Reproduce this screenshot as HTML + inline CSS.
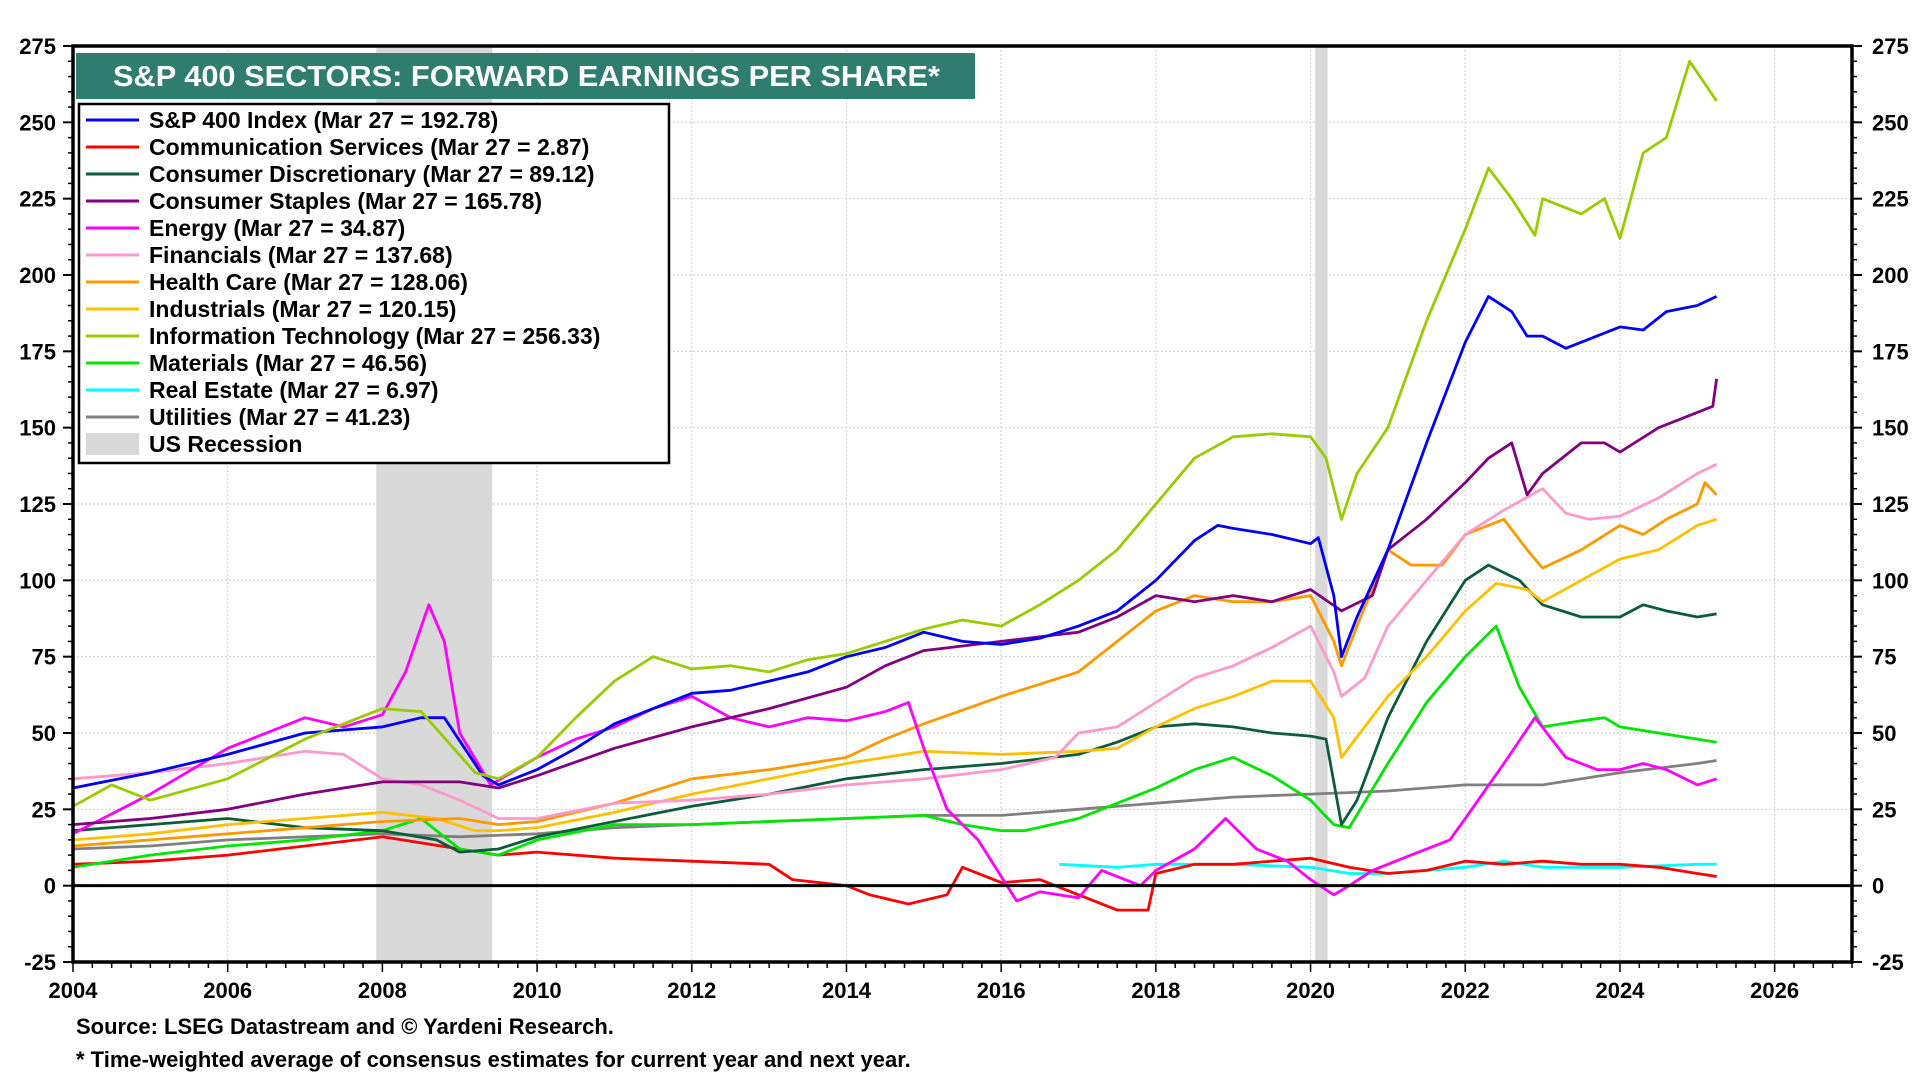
<!DOCTYPE html>
<html><head><meta charset="utf-8"><style>
html,body{margin:0;padding:0;background:#fff;}
svg{display:block;font-family:"Liberation Sans Narrow","Liberation Sans",sans-serif;font-weight:bold;}
</style></head><body>
<svg id="chart" width="1920" height="1080" viewBox="0 0 1920 1080" xmlns="http://www.w3.org/2000/svg">
<g id="grid"></g>
<g id="recessions"></g>
<g id="series"></g>
<g id="axes"></g>
<g id="legend"></g>
<text x="76" y="1034" font-size="22">Source: LSEG Datastream and © Yardeni Research.</text>
<text x="76" y="1067" font-size="22">* Time-weighted average of consensus estimates for current year and next year.</text>
</svg>
<script>
const xTicks = [2004,2006,2008,2010,2012,2014,2016,2018,2020,2022,2024,2026];
const yTicks = [-25,0,25,50,75,100,125,150,175,200,225,250,275];
const recessionStarts = [2007.92, 2020.06];
const recessionEnds = [2009.42, 2020.22];

const spxDates = [2004,2005,2006,2007,2008,2008.5,2008.8,2009.3,2009.5,2010,2010.5,2011,2011.5,2012,2012.5,2013,2013.5,2014,2014.5,2015,2015.5,2016,2016.5,2017,2017.5,2018,2018.5,2018.8,2019,2019.5,2020,2020.1,2020.3,2020.4,2020.6,2021,2021.5,2022,2022.3,2022.6,2022.8,2023,2023.3,2024,2024.3,2024.6,2025,2025.25];
const spxValues = [32,37,43,50,52,55,55,36,33,38,45,53,58,63,64,67,70,75,78,83,80,79,81,85,90,100,113,118,117,115,112,114,95,75,88,110,145,178,193,188,180,180,176,183,182,188,190,193];

const itDates = [2004,2004.5,2005,2006,2007,2008,2008.5,2009.2,2009.5,2010,2010.5,2011,2011.5,2012,2012.5,2013,2013.5,2014,2014.5,2015,2015.5,2016,2016.5,2017,2017.5,2018,2018.5,2019,2019.5,2020,2020.2,2020.4,2020.6,2021,2021.5,2022,2022.3,2022.6,2022.9,2023,2023.5,2023.8,2024,2024.3,2024.6,2024.9,2025.25];
const itValues = [26,33,28,35,48,58,57,37,35,42,55,67,75,71,72,70,74,76,80,84,87,85,92,100,110,125,140,147,148,147,140,120,135,150,185,215,235,225,213,225,220,225,212,240,245,270,257];

const csDates = [2004,2005,2006,2007,2008,2009,2009.5,2010,2011,2012,2013,2014,2014.5,2015,2016,2017,2017.5,2018,2018.5,2019,2019.5,2020,2020.4,2020.8,2021,2021.5,2022,2022.3,2022.6,2022.8,2023,2023.5,2023.8,2024,2024.5,2025,2025.2,2025.25];
const csValues = [20,22,25,30,34,34,32,36,45,52,58,65,72,77,80,83,88,95,93,95,93,97,90,95,110,120,132,140,145,128,135,145,145,142,150,155,157,166];

const finDates = [2004,2005,2006,2007,2007.5,2008,2008.5,2009,2009.5,2010,2011,2012,2013,2014,2015,2016,2016.7,2017,2017.5,2018,2018.5,2019,2019.5,2020,2020.3,2020.4,2020.7,2021,2021.5,2022,2022.5,2023,2023.3,2023.6,2024,2024.5,2025,2025.25];
const finValues = [35,37,40,44,43,35,33,28,22,22,27,28,30,33,35,38,42,50,52,60,68,72,78,85,70,62,68,85,100,115,123,130,122,120,121,127,135,138];

const hcDates = [2004,2005,2006,2007,2008,2009,2009.5,2010,2011,2012,2013,2014,2014.5,2015,2016,2017,2017.5,2018,2018.5,2019,2019.5,2020,2020.3,2020.4,2020.6,2021,2021.3,2021.7,2022,2022.5,2022.8,2023,2023.5,2024,2024.3,2024.6,2025,2025.1,2025.25];
const hcValues = [13,15,17,19,21,22,20,21,27,35,38,42,48,53,62,70,80,90,95,93,93,95,80,72,85,110,105,105,115,120,110,104,110,118,115,120,125,132,128];

const indDates = [2004,2005,2006,2007,2008,2008.7,2009.2,2009.5,2010,2011,2012,2013,2014,2015,2016,2017,2017.5,2018,2018.5,2019,2019.5,2020,2020.3,2020.4,2020.7,2021,2021.5,2022,2022.4,2022.8,2023,2023.5,2024,2024.5,2025,2025.25];
const indValues = [15,17,20,22,24,22,18,18,19,24,30,35,40,44,43,44,45,52,58,62,67,67,55,42,52,62,75,90,99,97,93,100,107,110,118,120];

const cdDates = [2004,2005,2006,2007,2008,2008.7,2009,2009.5,2010,2011,2012,2013,2014,2015,2016,2017,2017.5,2018,2018.5,2019,2019.5,2020,2020.2,2020.4,2020.6,2021,2021.5,2022,2022.3,2022.7,2023,2023.5,2024,2024.3,2024.6,2025,2025.25];
const cdValues = [18,20,22,19,18,15,11,12,16,21,26,30,35,38,40,43,47,52,53,52,50,49,48,20,28,55,80,100,105,100,92,88,88,92,90,88,89];

const matDates = [2004,2005,2006,2007,2008,2008.5,2009,2009.5,2010,2011,2012,2013,2014,2015,2015.5,2016,2016.3,2017,2018,2018.5,2019,2019.5,2020,2020.3,2020.5,2021,2021.5,2022,2022.4,2022.7,2023,2023.5,2023.8,2024,2024.5,2025,2025.25];
const matValues = [6,10,13,15,18,22,12,10,15,20,20,21,22,23,20,18,18,22,32,38,42,36,28,20,19,40,60,75,85,65,52,54,55,52,50,48,47];

const enDates = [2004,2005,2006,2007,2007.5,2008,2008.3,2008.6,2008.8,2009,2009.4,2010,2010.5,2011,2011.5,2012,2012.5,2013,2013.5,2014,2014.5,2014.8,2015,2015.3,2015.7,2016,2016.2,2016.5,2017,2017.3,2017.8,2018,2018.5,2018.9,2019.3,2019.7,2020,2020.3,2020.5,2020.8,2021.3,2021.8,2022,2022.5,2022.9,2023.3,2023.7,2024,2024.3,2024.6,2025,2025.25];
const enValues = [17,30,45,55,52,56,70,92,80,50,33,42,48,52,58,62,55,52,55,54,57,60,45,25,15,3,-5,-2,-4,5,0,5,12,22,12,8,2,-3,0,5,10,15,22,40,55,42,38,38,40,38,33,35];

const comDates = [2004,2005,2006,2007,2008,2008.5,2009,2009.5,2010,2011,2012,2013,2013.3,2014,2014.3,2014.8,2015.3,2015.5,2016,2016.5,2017,2017.5,2017.9,2018,2018.5,2019,2019.5,2020,2020.5,2021,2021.5,2022,2022.5,2023,2023.5,2024,2024.5,2025,2025.25];
const comValues = [7,8,10,13,16,14,12,10,11,9,8,7,2,0,-3,-6,-3,6,1,2,-3,-8,-8,4,7,7,8,9,6,4,5,8,7,8,7,7,6,4,3];

const reDates = [2016.75,2017.5,2018,2019,2020,2020.5,2021,2021.5,2022,2022.5,2023,2024,2025,2025.25];
const reValues = [7,6,7,7,6,4,4,5,6,8,6,6,7,7];

const utDates = [2004,2005,2006,2007,2008,2009,2010,2011,2012,2013,2014,2015,2016,2017,2018,2019,2020,2021,2022,2023,2024,2025,2025.25];
const utValues = [12,13,15,16,17,16,17,19,20,21,22,23,23,25,27,29,30,31,33,33,37,40,41];

const legendLabels = ["S&P 400 Index (Mar 27 = 192.78)","Communication Services (Mar 27 = 2.87)","Consumer Discretionary (Mar 27 = 89.12)","Consumer Staples (Mar 27 = 165.78)","Energy (Mar 27 = 34.87)","Financials (Mar 27 = 137.68)","Health Care (Mar 27 = 128.06)","Industrials (Mar 27 = 120.15)","Information Technology (Mar 27 = 256.33)","Materials (Mar 27 = 46.56)","Real Estate (Mar 27 = 6.97)","Utilities (Mar 27 = 41.23)"];

const NS = "http://www.w3.org/2000/svg";
const L = 73, R = 1852, T = 46, B = 962;
const X0 = 2004, X1 = 2027, Y0 = -25, Y1 = 275;
function xs(v){ return L + (v - X0) / (X1 - X0) * (R - L); }
function ys(v){ return B - (v - Y0) / (Y1 - Y0) * (B - T); }
function mk(tag, attrs, parent){ const e = document.createElementNS(NS, tag); for (const k in attrs) e.setAttribute(k, attrs[k]); parent.appendChild(e); return e; }

const grid = document.getElementById('grid');
xTicks.forEach(t => {
  if (t === X0) return;
  const l = mk('line', {x1: xs(t), x2: xs(t), y1: T, y2: B, stroke: '#d4d4d4', 'stroke-width': 1.2, 'stroke-dasharray': '2,2'}, grid);
  
  
});
yTicks.forEach(t => {
  if (t === Y0 || t === Y1 || t === 0) return;
  const l = mk('line', {x1: L, x2: R, y1: ys(t), y2: ys(t), stroke: '#d4d4d4', 'stroke-width': 1.2, 'stroke-dasharray': '2,2'}, grid);
  
  
});

const rec = document.getElementById('recessions');
recessionStarts.forEach((s, i) => {
  const r = mk('rect', {x: xs(s), y: T, width: xs(recessionEnds[i]) - xs(s), height: B - T, fill: '#d9d9d9'}, rec);
  
  
});

const seriesDefs = [
  ['utilities', utDates, utValues, '#808080'],
  ['real-estate', reDates, reValues, '#00ffff'],
  ['communication-services', comDates, comValues, '#ff0000'],
  ['materials', matDates, matValues, '#00e600'],
  ['consumer-discretionary', cdDates, cdValues, '#0b5c3a'],
  ['industrials', indDates, indValues, '#ffc000'],
  ['health-care', hcDates, hcValues, '#ff9900'],
  ['financials', finDates, finValues, '#ff99cc'],
  ['energy', enDates, enValues, '#ff00ff'],
  ['consumer-staples', csDates, csValues, '#800080'],
  ['sp400-index', spxDates, spxValues, '#0000ff'],
  ['information-technology', itDates, itValues, '#99cc00']
];
const sg = document.getElementById('series');
seriesDefs.forEach(d => {
  const pts = d[1].map((x, i) => xs(x).toFixed(1) + ',' + ys(d[2][i]).toFixed(1)).join(' ');
  const p = mk('polyline', {points: pts, fill: 'none', stroke: d[3], 'stroke-width': 2.8, 'stroke-linejoin': 'round'}, sg);
  
  
});

const ax = document.getElementById('axes');
const zl = mk('line', {x1: L, x2: R, y1: ys(0), y2: ys(0), stroke: '#000', 'stroke-width': 3}, ax);


const frame = mk('rect', {x: L, y: T, width: R - L, height: B - T, fill: 'none', stroke: '#000', 'stroke-width': 3.5}, ax);


yTicks.forEach(t => {
  const y = ys(t);
  mk('line', {x1: L - 10, x2: L, y1: y, y2: y, stroke: '#000', 'stroke-width': 2}, ax);
  mk('line', {x1: R, x2: R + 10, y1: y, y2: y, stroke: '#000', 'stroke-width': 2}, ax);
  const a = mk('text', {x: L - 17, y: y + 8, 'text-anchor': 'end', 'font-size': 22}, ax);
  a.textContent = t;
  
  
  const b = mk('text', {x: R + 20, y: y + 8, 'text-anchor': 'start', 'font-size': 22}, ax);
  b.textContent = t;
  
  
  if (t < Y1) for (let k = 1; k < 5; k++) {
    const yy = ys(t + k * 5);
    mk('line', {x1: L - 5, x2: L, y1: yy, y2: yy, stroke: '#000', 'stroke-width': 1.5}, ax);
    mk('line', {x1: R, x2: R + 5, y1: yy, y2: yy, stroke: '#000', 'stroke-width': 1.5}, ax);
  }
});
for (let m = X0 * 4; m <= X1 * 4; m++) {
  const x = xs(m / 4);
  const major = m % 8 === 0;
  mk('line', {x1: x, x2: x, y1: B, y2: B + (major ? 10 : 6), stroke: '#000', 'stroke-width': 1.5}, ax);
}
xTicks.forEach(t => {
  const a = mk('text', {x: xs(t), y: 998, 'text-anchor': 'middle', 'font-size': 22}, ax);
  a.textContent = t;
  
  
});

const lg = document.getElementById('legend');
const tb = mk('rect', {x: 76, y: 53, width: 899, height: 46, fill: '#2e7d6e'}, lg);


const tt = mk('text', {x: 113, y: 86, fill: '#fff', 'font-size': 29, 'font-family': '"Liberation Sans",sans-serif', textLength: 827, lengthAdjust: 'spacingAndGlyphs'}, lg);
tt.textContent = 'S&P 400 SECTORS: FORWARD EARNINGS PER SHARE*';


const lb = mk('rect', {x: 79, y: 104, width: 590, height: 359, fill: '#fff', stroke: '#000', 'stroke-width': 2.5}, lg);


const legendColors = ['#0000ff','#ff0000','#0b5c3a','#800080','#ff00ff','#ff99cc','#ff9900','#ffc000','#99cc00','#00e600','#00ffff','#808080'];
legendLabels.forEach((lab, i) => {
  const y = 120 + i * 27;
  const sw = mk('line', {x1: 86, x2: 139, y1: y, y2: y, stroke: legendColors[i], 'stroke-width': 3}, lg);
  
  
  const tx = mk('text', {x: 149, y: y + 8, 'font-size': 23}, lg);
  tx.textContent = lab;
  
  
});
const ry = 120 + 12 * 27;
const rs = mk('rect', {x: 86, y: ry - 11, width: 53, height: 22, fill: '#d9d9d9'}, lg);


const rt = mk('text', {x: 149, y: ry + 8, 'font-size': 23}, lg);
rt.textContent = 'US Recession';


</script>
</body></html>
